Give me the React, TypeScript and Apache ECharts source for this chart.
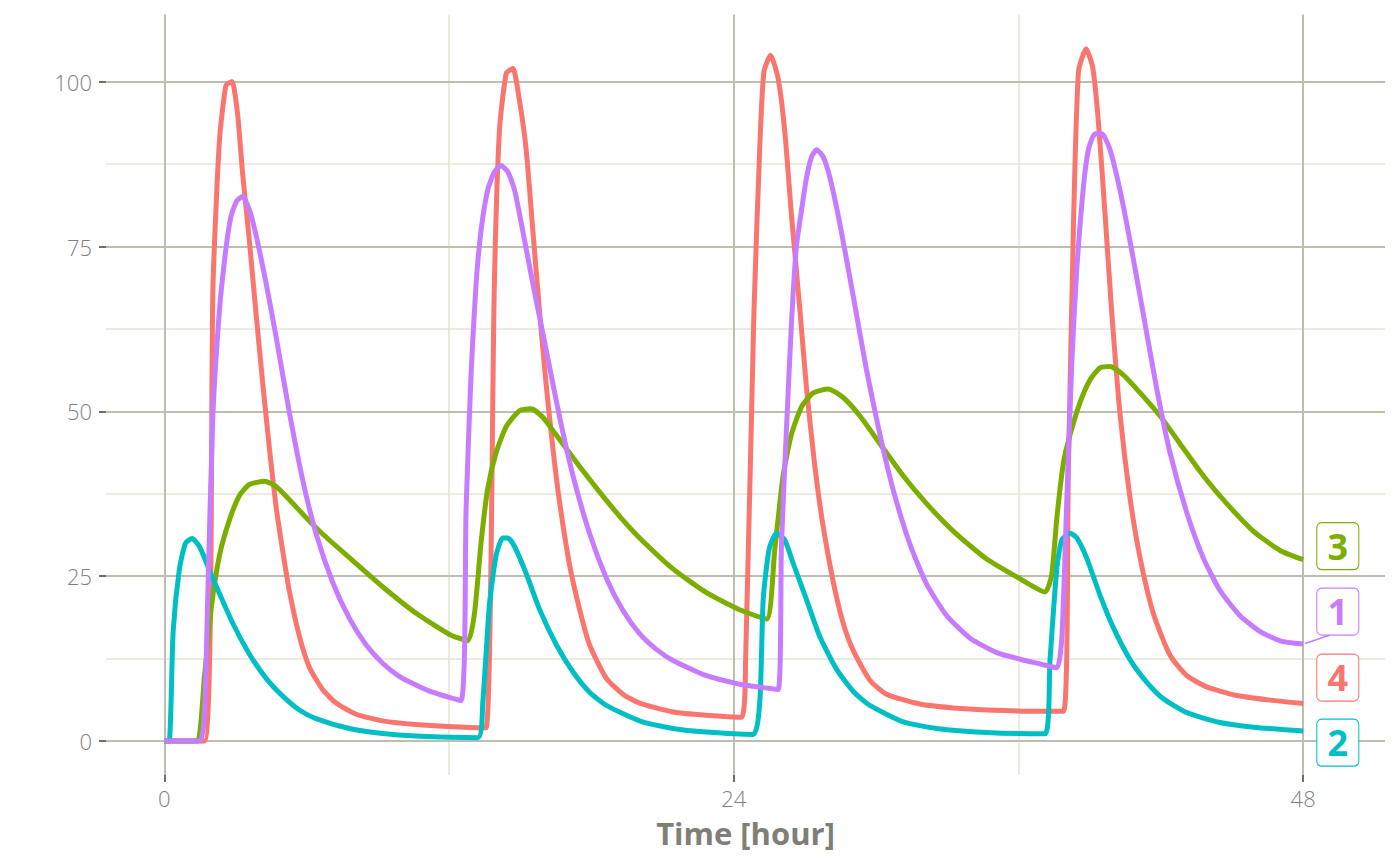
import React, { useEffect, useRef } from "react";
import * as echarts from "echarts";

// ---- data (time [hour], concentration) ----
const xTicks = [0, 24, 48];
const xMinor = [12, 36];
const yTicks = [0, 25, 50, 75, 100];
const yMinor = [12.5, 37.5, 62.5, 87.5];

const seriesNames = ["4", "3", "2", "1"];
const seriesColors = ["#F8766D", "#7CAE00", "#00BFC4", "#C77CFF"];

const red4: [number, number][] = [
  [0, 0], [1.69, 0], [2.05, 69], [2.32, 91], [2.6, 99.5], [2.85, 100], [3.09, 95], [3.3, 86], [3.58, 76],
  [3.86, 65], [4.14, 54.5], [4.43, 44.3], [4.71, 35.5], [4.99, 28.8], [5.27, 22.7], [5.69, 15.9], [6.11, 11.2],
  [6.67, 7.8], [7.24, 5.75], [8.08, 4.06], [9.2, 3.05], [10.6, 2.5], [12.86, 2.03], [13.56, 2.0],
  [13.91, 69.4], [14.12, 92.4], [14.41, 101.3], [14.69, 102], [14.97, 97.1], [15.25, 89.7], [15.53, 77.5],
  [15.81, 65.3], [16.1, 53.8], [16.38, 44.3], [16.66, 36.2], [17.08, 26.7], [17.5, 20], [17.92, 14.6],
  [18.63, 9.5], [19.33, 7.1], [20.03, 5.75], [21.44, 4.4], [22.85, 3.9], [24.32, 3.6],
  [24.5, 12.3], [24.85, 65], [25.1, 90.4], [25.27, 101.5], [25.55, 104], [25.87, 100.5], [26.15, 92.5],
  [26.43, 79.9], [26.79, 65.3], [27.07, 53.4], [27.42, 41.6], [27.77, 32.5], [28.19, 24.2], [28.61, 17.9],
  [29.04, 13.7], [29.74, 9.2], [30.44, 7.1], [31.85, 5.6], [33.26, 5.0], [34.66, 4.7], [36.91, 4.5], [37.9, 4.5],
  [38.1, 40], [38.32, 78.5], [38.53, 101.5], [38.85, 105], [39.13, 102.2], [39.37, 93.9], [39.65, 79.9],
  [39.94, 64.6], [40.29, 49.3], [40.71, 36.7], [41.13, 27.7], [41.69, 19.3], [42.39, 13], [43.1, 9.9],
  [43.94, 8.2], [45.2, 6.9], [46.61, 6.2], [48, 5.7],
];

const green3: [number, number][] = [
  [0, 0], [1.33, 0], [1.69, 9.8], [1.97, 20], [2.32, 28.1], [2.74, 33.5], [3.16, 37.2], [3.58, 38.9],
  [4.22, 39.4], [4.71, 38.6], [5.27, 36.6], [5.97, 33.9], [6.67, 31.4], [7.8, 27.8], [9.2, 23.4], [10.6, 19.4],
  [12.0, 16.2], [12.79, 15.2], [13.07, 19.3], [13.35, 30.1], [13.63, 38.3], [13.98, 43.7], [14.41, 47.7],
  [14.97, 50.1], [15.46, 50.4], [15.95, 49.1], [16.52, 46.4], [17.22, 43], [17.92, 39.7], [18.63, 36.5],
  [19.33, 33.5], [20.03, 30.8], [21.44, 26.1], [22.85, 22.5], [24.25, 19.9], [25.38, 18.5],
  [25.73, 29.1], [26.08, 40.2], [26.43, 46.5], [26.86, 50.7], [27.35, 52.8], [27.98, 53.4], [28.61, 52.1],
  [29.32, 49.3], [30.16, 45.1], [31.15, 40.2], [32.13, 36], [33.26, 31.8], [34.66, 27.6], [36.07, 24.6],
  [37.12, 22.6], [37.4, 25.2], [37.62, 33.9], [37.9, 42.3], [38.18, 46.5], [38.6, 51.4], [39.02, 54.8],
  [39.44, 56.6], [39.86, 56.8], [40.43, 55.5], [41.13, 52.8], [41.97, 49.3], [42.81, 45.1], [43.8, 40.2],
  [44.78, 36], [45.91, 31.8], [47.03, 28.9], [48, 27.5],
];

const teal2: [number, number][] = [
  [0, 0], [0.2, 0], [0.37, 16.6], [0.63, 26], [0.89, 30], [1.17, 30.7], [1.48, 29.5], [2.04, 24.7],
  [2.88, 17.9], [3.58, 13.2], [4.29, 9.5], [4.99, 6.8], [5.69, 4.7], [6.39, 3.4], [7.8, 1.9], [9.2, 1.15],
  [10.6, 0.75], [13.21, 0.5], [13.42, 5.75], [13.7, 20.6], [13.98, 28.1], [14.26, 30.8], [14.48, 30.8],
  [14.76, 29.5], [15.25, 25.4], [15.81, 20], [16.52, 14.6], [17.22, 10.5], [17.92, 7.4], [18.63, 5.4],
  [20.03, 3.05], [21.44, 1.9], [22.85, 1.35], [24.82, 1.0], [25.1, 6.1], [25.24, 21.4], [25.49, 29.1],
  [25.8, 31.5], [26.15, 30.5], [26.5, 27], [27.07, 21.4], [27.63, 15.8], [28.33, 10.9], [29.04, 7.5],
  [29.74, 5.4], [31.15, 2.9], [32.55, 1.9], [34.66, 1.3], [37.12, 1.1], [37.33, 12.3], [37.62, 26.3],
  [37.83, 30.5], [38.18, 31.5], [38.46, 30.8], [38.88, 27.7], [39.44, 22.1], [40.0, 17.2], [40.71, 12.3],
  [41.41, 8.9], [42.11, 6.4], [43.1, 4.3], [44.5, 2.8], [45.91, 2.1], [48, 1.5],
];

const purple1: [number, number][] = [
  [0, 0], [1.48, 0], [1.69, 4.4], [1.83, 22], [2.04, 49], [2.32, 65.3], [2.6, 74.8], [2.81, 79.6],
  [3.05, 81.9], [3.3, 82.6], [3.58, 80.6], [3.86, 76.8], [4.29, 69.4], [4.71, 61.3], [5.27, 49.8],
  [5.83, 39.6], [6.39, 31.5], [7.1, 24], [7.8, 18.6], [8.5, 14.6], [9.2, 11.8], [9.9, 9.8], [10.6, 8.5],
  [11.3, 7.4], [12.5, 6.1], [12.72, 35.5], [12.93, 55.9], [13.14, 69.4], [13.35, 77.5], [13.63, 83.6],
  [13.91, 86.3], [14.19, 87.3], [14.48, 86.3], [14.76, 83.6], [15.1, 77.5], [15.53, 69.4], [16.1, 59.2],
  [16.66, 49.1], [17.22, 40.3], [17.92, 31.5], [18.63, 24.7], [19.33, 19.8], [20.03, 16.3], [20.74, 13.9],
  [21.44, 12.2], [22.85, 9.9], [24.25, 8.6], [24.82, 8.3], [25.87, 7.8], [26.01, 29.8], [26.22, 47.2],
  [26.43, 63.2], [26.64, 75], [26.86, 80.6], [27.07, 85.5], [27.28, 88.6], [27.49, 89.7], [27.77, 88.6],
  [28.05, 85.5], [28.47, 78.5], [29.04, 67.4], [29.6, 56.2], [30.16, 46.5], [30.72, 38.1], [31.43, 29.8],
  [32.13, 23.8], [32.98, 19], [33.96, 15.6], [35.09, 13.4], [36.07, 12.4], [36.91, 11.7], [37.62, 11.1],
  [37.83, 15.8], [38.04, 36.7], [38.25, 57.6], [38.46, 71.6], [38.74, 84.1], [38.95, 89.7], [39.23, 92.1],
  [39.51, 92.1], [39.86, 89.7], [40.29, 83.4], [40.71, 75.7], [41.27, 64.6], [41.83, 53.4], [42.39, 43.7],
  [43.1, 34.6], [43.8, 27.7], [44.5, 22.8], [45.34, 19], [46.19, 16.6], [47.03, 15.2], [48, 14.7],
];

const seriesData = [red4, green3, teal2, purple1];

// label boxes (repelled positions, data units)
const labelX = 49.46;
const labelY = [9.61, 29.55, -0.26, 19.63]; // for "4","3","2","1"
// connector for label "1"
const connector1: [number, number][] = [[48.08, 14.8], [49.14, 16.09]];

const X_MIN = -2.46;
const X_MAX = 51.45;
const Y_MIN = -5.16;
const Y_MAX = 110.2;

const boxPath =
  "path://M5,0 H37 A5,5 0 0 1 42,5 V42 A5,5 0 0 1 37,47 H5 A5,5 0 0 1 0,42 V5 A5,5 0 0 1 5,0 Z";

export default function App() {
  const ref = useRef<HTMLDivElement>(null);
  useEffect(() => {
    if (!ref.current) return;
    const chart = echarts.init(ref.current, undefined, { renderer: "svg" });
    const major = { color: "#bdbdb0", width: 2, type: "solid" as const };
    const minor = { color: "#e5e5d8", width: 1.6, type: "solid" as const };
    const gridLines: any[] = [
      ...xMinor.map((v) => ({ xAxis: v, lineStyle: minor })),
      ...yMinor.map((v) => ({ yAxis: v, lineStyle: minor })),
      ...xTicks.map((v) => ({ xAxis: v, lineStyle: major })),
      ...yTicks.map((v) => ({ yAxis: v, lineStyle: major })),
    ];
    const series: any[] = [
      {
        name: "grid",
        type: "line",
        data: [],
        silent: true,
        markLine: {
          z: 0,
          silent: true,
          symbol: "none",
          label: { show: false },
          animation: false,
          data: gridLines,
        },
      },
    ];
    seriesData.forEach((d, i) => {
      const color = seriesColors[i];
      const s: any = {
        name: seriesNames[i],
        type: "line",
        data: d,
        showSymbol: false,
        symbol: "none",
        smooth: 0.2,
        z: 3,
        lineStyle: { color, width: 5, join: "round", cap: "butt" },
        itemStyle: { color },
        markPoint: {
          z: 10,
          silent: true,
          symbol: boxPath,
          symbolSize: [42, 47],
          itemStyle: { color: "#ffffff", borderColor: color, borderWidth: 1.1 },
          label: {
            show: true,
            position: "inside",
            formatter: seriesNames[i],
            fontFamily: "Open Sans",
            fontWeight: "bold",
            fontSize: 36,
            color,
          },
          data: [{ coord: [labelX, labelY[i]] }],
        },
      };
      if (seriesNames[i] === "1") {
        s.markLine = {
          z: 4,
          silent: true,
          symbol: "none",
          label: { show: false },
          lineStyle: { color, width: 1.6, type: "solid" },
          data: [[{ coord: connector1[0] }, { coord: connector1[1] }]],
        };
      }
      series.push(s);
    });

    const labelFont = {
      fontFamily: "Open Sans",
      fontWeight: 300 as any,
      fontSize: 22,
      color: "#7f7f7f",
    };
    const tickStyle = { color: "#6e6e6e", width: 2 };

    chart.setOption({
      animation: false,
      backgroundColor: "#ffffff",
      grid: {
        left: 106,
        top: 14.5,
        right: 15,
        bottom: 90,
        containLabel: false,
        outerBoundsMode: "none",
      },
      xAxis: {
        type: "value",
        min: X_MIN,
        max: X_MAX,
        axisLine: { show: false, onZero: false },
        splitLine: { show: false },
        axisTick: { show: true, length: 7, customValues: xTicks, lineStyle: tickStyle },
        axisLabel: { ...labelFont, margin: 12, customValues: xTicks },
        name: "Time [hour]",
        nameLocation: "middle",
        nameGap: 42,
        nameTextStyle: {
          fontFamily: "Open Sans",
          fontWeight: "bold",
          fontSize: 31,
          color: "#7f7f78",
        },
      },
      yAxis: {
        type: "value",
        min: Y_MIN,
        max: Y_MAX,
        axisLine: { show: false, onZero: false },
        splitLine: { show: false },
        axisTick: { show: true, length: 7, customValues: yTicks, lineStyle: tickStyle },
        axisLabel: { ...labelFont, margin: 14, customValues: yTicks },
      },
      series,
    });
    return () => chart.dispose();
  }, []);
  return (
    <div
      ref={ref}
      style={{ position: "fixed", left: 0, top: 0, width: 1400, height: 865, background: "#fff" }}
    />
  );
}
